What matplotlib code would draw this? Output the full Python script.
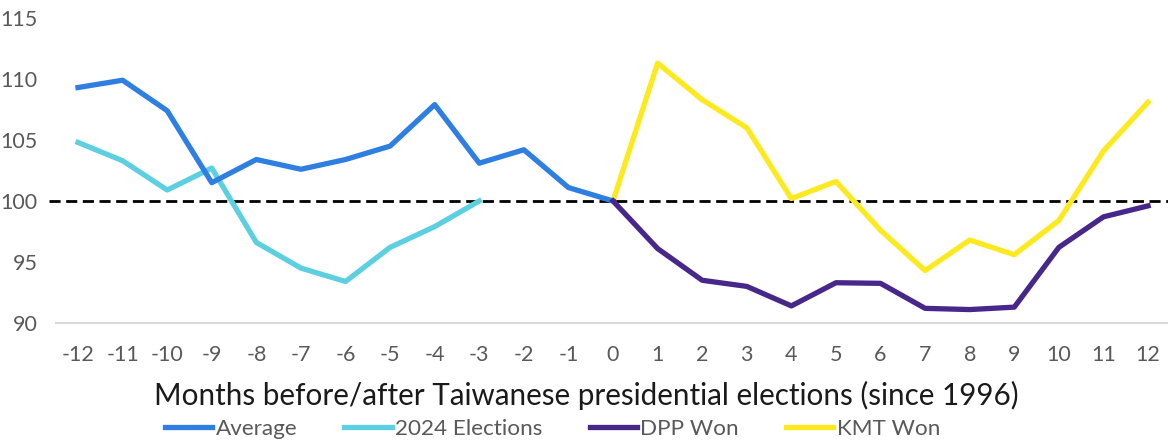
import numpy as np
import matplotlib
matplotlib.use("Agg")
import matplotlib.pyplot as plt

plt.rcParams['font.family'] = ['Lato', 'DejaVu Sans']
plt.rcParams['axes.unicode_minus'] = False

months = list(range(-12, 13))

avg_x = list(range(-12, 1))
average = [109.3, 109.9, 107.4, 101.5, 103.4, 102.6, 103.4, 104.5, 107.9, 103.1, 104.2, 101.1, 100.0]

e2024_x = list(range(-12, -2))
elections_2024 = [104.8, 103.3, 100.9, 102.7, 96.6, 94.5, 93.4, 96.2, 97.9, 100.0]

after_x = list(range(0, 13))
dpp_won = [100.0, 96.1, 93.5, 93.0, 91.4, 93.3, 93.25, 91.2, 91.1, 91.3, 96.2, 98.7, 99.6]
kmt_won = [100.0, 111.3, 108.3, 106.0, 100.2, 101.6, 97.6, 94.3, 96.8, 95.6, 98.4, 104.1, 108.1]

fig = plt.figure(figsize=(11.68, 4.41), dpi=100)
ax = fig.add_axes([0.0477, 0.2676, 0.9543, 0.6916])

# reference line at 100, starts a little left of the axis
ax.plot([-12.65, 12.5], [100, 100], color="black", lw=2.0, ls=(0, (4, 2)),
        zorder=1, clip_on=False)

lw = 3.8
ax.plot(avg_x, average, color="#2E7FE1", lw=lw, label="Average", zorder=3)
ax.plot(e2024_x, elections_2024, color="#5CCFE0", lw=lw, label="2024 Elections", zorder=2)
ax.plot(after_x, dpp_won, color="#47278A", lw=lw, label="DPP Won", zorder=3)
ax.plot(after_x, kmt_won, color="#FCE91E", lw=lw, label="KMT Won", zorder=2)

ax.set_xlim(-12.5, 12.5)
ax.set_ylim(90, 115)
ax.set_yticks([90, 95, 100, 105, 110, 115])
ax.set_xticks(months)

for s in ["top", "right", "left"]:
    ax.spines[s].set_visible(False)
ax.spines["bottom"].set_color("#D9D9D9")
ax.spines["bottom"].set_linewidth(1.5)
ax.tick_params(axis="both", length=0, labelsize=15.5, colors="#595959")
ax.tick_params(axis="x", pad=16)
ax.tick_params(axis="y", pad=13)

ax.set_xlabel("Months before/after Taiwanese presidential elections (since 1996)",
              fontsize=21.3, color="#1A1A1A", va="center")
ax.xaxis.set_label_coords(0.476, -0.238)

fig.legend(loc="center", bbox_to_anchor=(0.473, 0.028), ncol=4, frameon=False,
           fontsize=16.2, handlelength=2.1, handletextpad=0.15, columnspacing=2.1,
           labelcolor="#595959")

fig.savefig("out.png", dpi=100)
